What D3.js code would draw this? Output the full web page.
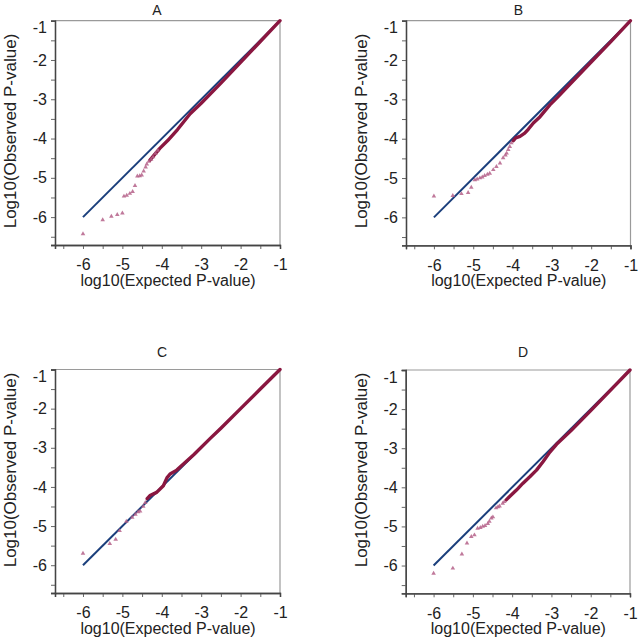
<!DOCTYPE html>
<html><head><meta charset="utf-8">
<script src="https://cdn.jsdelivr.net/npm/d3@7"></script>
<style>
html,body{margin:0;padding:0;background:#fff;}
text{font-family:"Liberation Sans",Arial,sans-serif;fill:#222;}
</style></head>
<body><svg id="c" width="638" height="642"></svg>
<script>
// ---- data ----
const panelTitles = ["A", "B", "C", "D"];
const tickValues = [-6, -5, -4, -3, -2, -1];
const minorTickValues = [-6.5, -6, -5.5, -5, -4.5, -4, -3.5, -3, -2.5, -2, -1.5, -1];
const axisDomain = [-6.71, -1];
const refLine = [[-6, -6], [-1, -1]];

// dense (thousands of overlapping points) part of each QQ curve: [expected, observed]
const denseA = [[-1,-1],[-1.5,-1.53],[-2,-2.06],[-2.5,-2.59],[-3,-3.1],[-3.28,-3.37],[-3.6,-3.77],[-3.85,-4.05],[-4.05,-4.25],[-4.2,-4.43],[-4.3,-4.55]];
const denseB = [[-1,-1],[-1.5,-1.53],[-2,-2.05],[-2.5,-2.57],[-2.84,-2.93],[-3.05,-3.14],[-3.3,-3.44],[-3.47,-3.6],[-3.6,-3.76],[-3.69,-3.86],[-3.81,-3.94],[-3.92,-3.98],[-3.98,-4.05]];
const denseC = [[-1,-1],[-1.5,-1.5],[-2,-2],[-2.5,-2.5],[-2.77,-2.76],[-3.19,-3.18],[-3.62,-3.57],[-3.79,-3.67],[-3.87,-3.77],[-3.96,-3.97],[-4.13,-4.14],[-4.3,-4.22],[-4.37,-4.3]];
const denseD = [[-1,-1],[-1.5,-1.52],[-2,-2.04],[-2.5,-2.55],[-2.87,-2.9],[-3.04,-3.1],[-3.21,-3.34],[-3.38,-3.56],[-3.55,-3.73],[-3.73,-3.9],[-3.89,-4.07],[-4.07,-4.24],[-4.15,-4.32]];

// sparse individually visible points
const sparseA = [[-6,-6.43],[-5.5,-6.07],[-5.28,-5.98],[-5.13,-5.94],[-5.0,-5.9],[-4.96,-5.47],[-4.89,-5.45],[-4.81,-5.4],[-4.74,-5.35],[-4.68,-5.2],[-4.62,-4.96],[-4.56,-4.95],[-4.51,-4.93],[-4.46,-4.83],[-4.41,-4.73],[-4.38,-4.65],[-4.33,-4.58],[-4.27,-4.53],[-4.22,-4.47],[-4.16,-4.38],[-4.1,-4.3]];
const sparseB = [[-6,-5.46],[-5.52,-5.45],[-5.3,-5.4],[-5.13,-5.37],[-5.05,-5.24],[-4.96,-5.05],[-4.9,-5.03],[-4.83,-5.0],[-4.77,-4.98],[-4.71,-4.94],[-4.64,-4.91],[-4.58,-4.88],[-4.49,-4.79],[-4.41,-4.71],[-4.32,-4.62],[-4.24,-4.49],[-4.18,-4.42],[-4.15,-4.37],[-4.11,-4.28],[-4.07,-4.2],[-4.03,-4.11]];
const sparseC = [[-6,-5.7],[-5.32,-5.45],[-5.17,-5.34],[-5.07,-5.12],[-4.9,-4.88],[-4.75,-4.78],[-4.67,-4.7],[-4.6,-4.64],[-4.55,-4.62],[-4.47,-4.5],[-4.42,-4.4]];
const sparseD = [[-6,-6.2],[-5.51,-6.07],[-5.28,-5.71],[-5.15,-5.43],[-5.04,-5.26],[-4.96,-5.22],[-4.88,-5.05],[-4.81,-5.03],[-4.75,-5.0],[-4.69,-4.98],[-4.62,-4.93],[-4.58,-4.87],[-4.53,-4.79],[-4.49,-4.76],[-4.41,-4.53],[-4.36,-4.5],[-4.32,-4.48],[-4.24,-4.41],[-4.2,-4.37]];

const denseSets = [denseA, denseB, denseC, denseD];
const sparseSets = [sparseA, sparseB, sparseC, sparseD];

// ---- layout ----
const boxes = [
  {l:55,   r:280,   t:20.7, b:245,   tx:157,   ty:15,    yl:131},
  {l:406,  r:630.5, t:20.7, b:245.3, tx:518.5, ty:15,    yl:131},
  {l:55,   r:280,   t:369.5,b:593,   tx:162,   ty:356.5, yl:470},
  {l:405.7,r:630,   t:370,  b:593.3, tx:523,   ty:356.5, yl:470}
];

const svg = d3.select("#c");
const blue = "#1b3f7c", red = "#8a1740", pink = "#b5628a";

boxes.forEach((bx, i) => {
  const g = svg.append("g");
  const x = d3.scaleLinear().domain(axisDomain).range([bx.l, bx.r]);
  const y = d3.scaleLinear().domain(axisDomain).range([bx.b, bx.t]);

  // frame: top/right light
  g.append("line").attr("x1", bx.l).attr("x2", bx.r).attr("y1", bx.t).attr("y2", bx.t).attr("stroke", "#9a9a9a").attr("stroke-width", 1.2);
  g.append("line").attr("x1", bx.r).attr("x2", bx.r).attr("y1", bx.t).attr("y2", bx.b).attr("stroke", "#9a9a9a").attr("stroke-width", 1.2);

  // axes
  const xa = g.append("g").attr("transform", `translate(0,${bx.b})`)
    .call(d3.axisBottom(x).tickValues(minorTickValues).tickSize(4).tickFormat(""));
  const xl = g.append("g").attr("transform", `translate(0,${bx.b})`)
    .call(d3.axisBottom(x).tickValues(tickValues).tickSize(4).tickPadding(10).tickFormat(d => d));
  const ya = g.append("g").attr("transform", `translate(${bx.l},0)`)
    .call(d3.axisLeft(y).tickValues(minorTickValues).tickSize(4).tickFormat(""));
  const yl = g.append("g").attr("transform", `translate(${bx.l},0)`)
    .call(d3.axisLeft(y).tickValues(tickValues).tickSize(4).tickPadding(4).tickFormat(d => d));
  [xa, xl, ya, yl].forEach(a => {
    a.select(".domain").attr("stroke", "#444").attr("stroke-width", 1.3);
    a.selectAll(".tick line").attr("stroke", "#666");
    a.selectAll("text").style("font-size", "16px").attr("fill", "#222");
  });
  xl.selectAll(".tick line").remove();
  yl.selectAll(".tick line").remove();
  yl.selectAll(".tick").filter(d => d === -1).select("text").attr("dy", "0.75em");

  // title
  g.append("text").attr("x", bx.tx).attr("y", bx.ty).attr("text-anchor", "middle")
    .style("font-size", "14px").text(panelTitles[i]);
  // x label
  g.append("text").attr("x", (bx.l + bx.r) / 2 + 0.5).attr("y", bx.b + 41).attr("text-anchor", "middle")
    .style("font-size", "16px").text("log10(Expected P-value)");
  // y label
  g.append("text").attr("transform", `translate(${bx.l - 39},${bx.yl}) rotate(-90)`).attr("text-anchor", "middle")
    .style("font-size", "17px").text("Log10(Observed P-value)");

  // reference line
  const line = d3.line().x(d => x(d[0])).y(d => y(d[1]));
  g.append("path").datum(refLine).attr("d", line).attr("fill", "none").attr("stroke", blue).attr("stroke-width", 2);

  // dense part
  g.append("path").datum(denseSets[i]).attr("d", line).attr("fill", "none")
    .attr("stroke", red).attr("stroke-width", 3.4).attr("stroke-linejoin", "round").attr("stroke-linecap", "round");

  // sparse points
  const sym = d3.symbol().type(d3.symbolTriangle).size(9);
  g.selectAll(".pt").data(sparseSets[i]).enter().append("path")
    .attr("transform", d => `translate(${x(d[0])},${y(d[1])})`)
    .attr("d", sym).attr("fill", pink).attr("opacity", 0.85);
});
</script></body></html>
